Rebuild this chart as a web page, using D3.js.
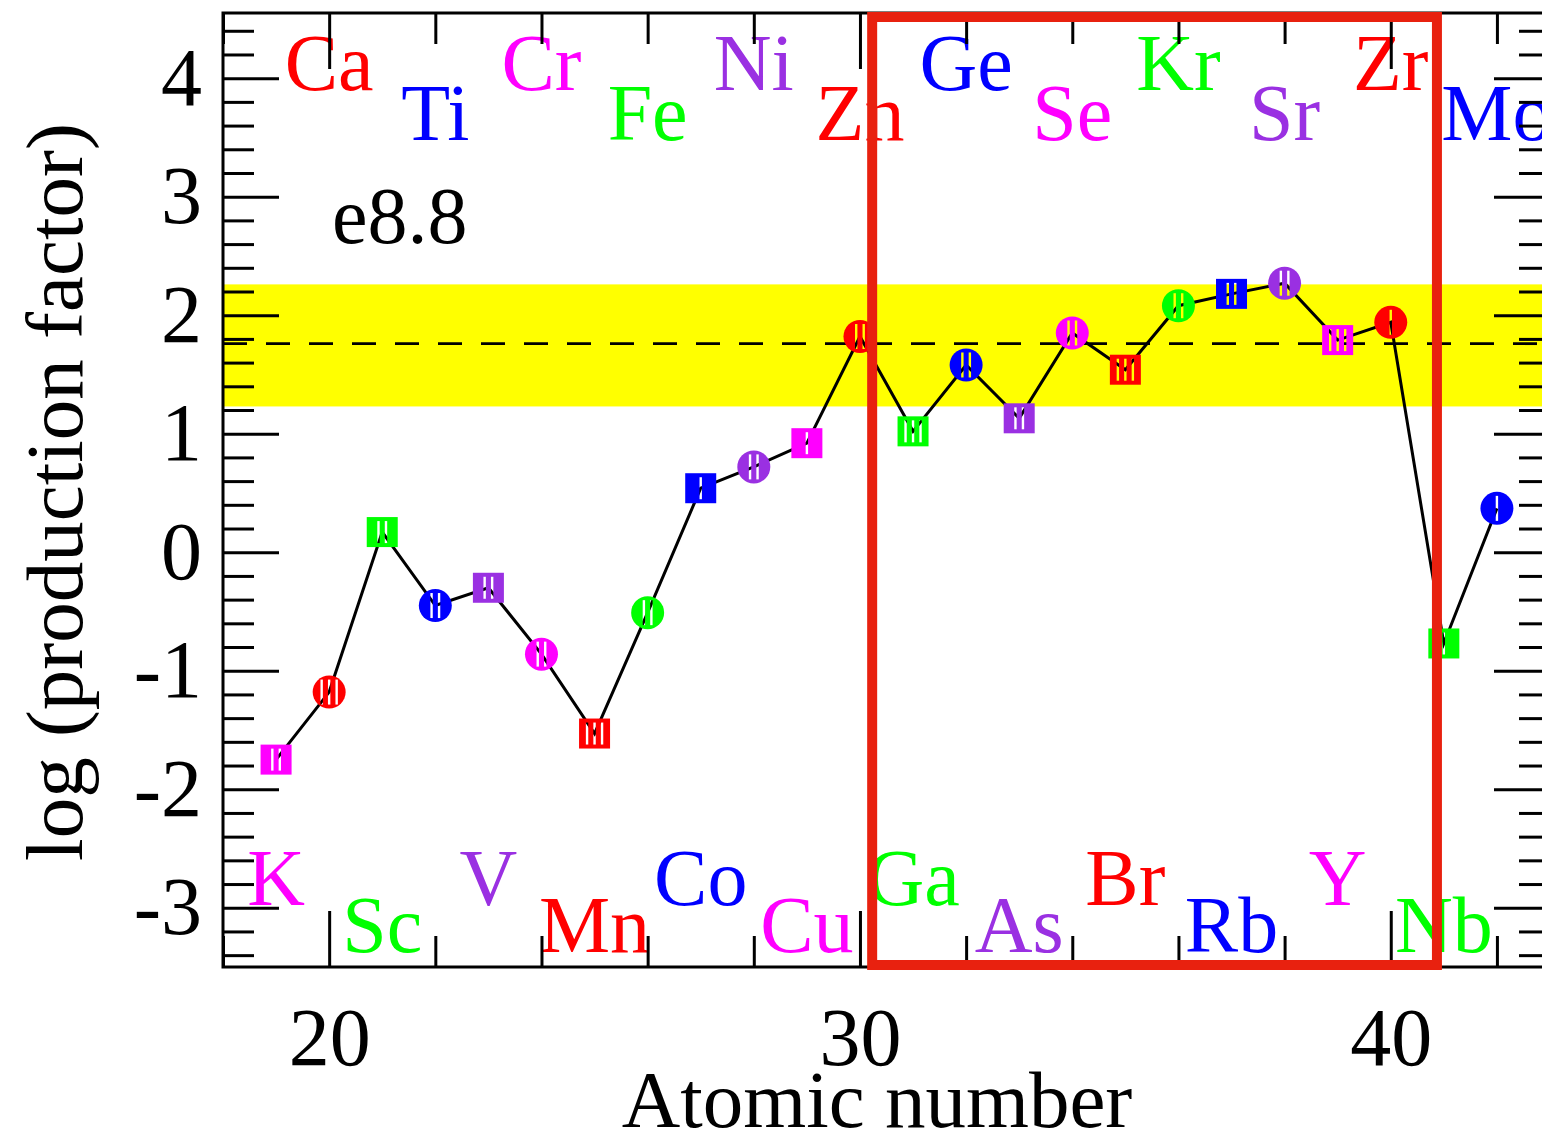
<!DOCTYPE html>
<html>
<head>
<meta charset="utf-8">
<script src="https://cdn.jsdelivr.net/npm/d3@7"></script>
<style>
  html, body { margin: 0; padding: 0; background: #fff; overflow: hidden; }
  svg { display: block; }
  text { font-family: "Liberation Serif", "DejaVu Serif", serif; }
</style>
</head>
<body>
<svg id="chart" width="1542" height="1136"></svg>
<script>
// Production factors of the intermediate-mass elements (model e8.8)
const atomicNumbers = [19, 20, 21, 22, 23, 24, 25, 26, 27, 28, 29, 30,
                       31, 32, 33, 34, 35, 36, 37, 38, 39, 40, 41, 42];
const elements = ["K", "Ca", "Sc", "Ti", "V", "Cr", "Mn", "Fe", "Co", "Ni", "Cu", "Zn",
                  "Ga", "Ge", "As", "Se", "Br", "Kr", "Rb", "Sr", "Y", "Zr", "Nb", "Mo"];
const logProduction = [-1.75, -1.18, 0.17, -0.45, -0.30, -0.86, -1.53, -0.51, 0.54, 0.72, 0.92, 1.82,
                       1.02, 1.58, 1.13, 1.85, 1.54, 2.08, 2.18, 2.27, 1.79, 1.94, -0.77, 0.37];
// number of isotope marks cut into each symbol
const isotopeMarks = [2, 3, 2, 2, 2, 2, 3, 2, 1, 2, 1, 2,
                      3, 2, 2, 2, 3, 2, 2, 2, 3, 1, 1, 1];

const xMajorTicks = [20, 30, 40];
const xMinorTicks = [18, 22, 24, 26, 28, 32, 34, 36, 38, 42];
const yMajorTicks = [-3, -2, -1, 0, 1, 2, 3, 4];
const yMinorTicks = d3.range(-34, 45, 2).filter(v => v % 10 !== 0).map(v => v / 10);

const bandRange = [1.23, 2.26];      // shaded band around the mean
const meanLevel = 1.76;              // dashed reference level
const highlightRange = [30.23, 40.87]; // boxed Ga..Zr region
const modelLabel = "e8.8";

const xTitle = "Atomic number";
const yTitle = "log (production factor)";

const palette = ["#ff00ff", "#ff0000", "#00ff00", "#0000ff", "#9a30e2"];

const svg = d3.select("#chart");
const x = d3.scaleLinear().domain([18, 43]).range([223, 1550]);
const y = d3.scaleLinear().domain([-3.5, 4.55]).range([967, 13]);
const [x0, x1] = x.range();
const [yb, yt] = y.range();

// shaded band and mean level
svg.append("rect")
  .attr("x", x0).attr("width", x1 - x0)
  .attr("y", y(bandRange[1])).attr("height", y(bandRange[0]) - y(bandRange[1]))
  .attr("fill", "#ffff00");

svg.append("line")
  .attr("x1", x0).attr("x2", x1)
  .attr("y1", y(meanLevel)).attr("y2", y(meanLevel))
  .attr("stroke", "#000").attr("stroke-width", 2.8)
  .attr("stroke-dasharray", "24 19");

// connecting line
const pts = atomicNumbers.map((z, i) => ({ z, v: logProduction[i], name: elements[i], marks: isotopeMarks[i], i }));
svg.append("path")
  .datum(pts)
  .attr("fill", "none").attr("stroke", "#000").attr("stroke-width", 3)
  .attr("d", d3.line().x(d => x(d.z)).y(d => y(d.v)));

// symbols with isotope marks cut out
const defs = svg.append("defs");
pts.forEach(d => {
  const sq = d.z % 2 === 1;
  const half = sq ? 11 : 12.5;
  const m = defs.append("mask").attr("id", "iso" + d.i)
    .attr("maskUnits", "userSpaceOnUse")
    .attr("x", -25).attr("y", -25).attr("width", 50).attr("height", 50);
  m.append("rect").attr("x", -25).attr("y", -25).attr("width", 50).attr("height", 50).attr("fill", "#fff");
  d3.range(d.marks).forEach(k => {
    const off = (k - (d.marks - 1) / 2) * 7.5;
    m.append("line")
      .attr("x1", off).attr("x2", off).attr("y1", -half).attr("y2", half)
      .attr("stroke", "#000").attr("stroke-width", 2.4);
  });
});

const marks = svg.append("g").selectAll("g").data(pts).join("g")
  .attr("transform", d => `translate(${x(d.z)},${y(d.v)})`);
marks.each(function (d) {
  const g = d3.select(this);
  const col = palette[(d.z - 19) % 5];
  if (d.z % 2 === 1) {
    g.append("rect").attr("x", -15.5).attr("y", -15).attr("width", 31).attr("height", 30)
      .attr("fill", col).attr("mask", `url(#iso${d.i})`);
  } else {
    g.append("circle").attr("r", 16.5).attr("fill", col).attr("mask", `url(#iso${d.i})`);
  }
});

// element names, staggered in four rows
const labelRows = { topHigh: 90, topLow: 140, bottomHigh: 905, bottomLow: 952 };
svg.append("g").selectAll("text").data(pts).join("text")
  .attr("x", d => x(d.z))
  .attr("y", d => {
    if (d.z % 2 === 0) return (d.z % 4 === 0) ? labelRows.topHigh : labelRows.topLow;
    return ((d.z - 19) % 4 === 0) ? labelRows.bottomHigh : labelRows.bottomLow;
  })
  .attr("text-anchor", "middle")
  .attr("font-size", 80)
  .attr("fill", d => palette[(d.z - 19) % 5])
  .text(d => d.name);

// model tag
svg.append("text")
  .attr("x", 332).attr("y", 243)
  .attr("font-size", 80).attr("fill", "#000")
  .text(modelLabel);

// axes: inward ticks on all four sides
const fmt = d => String(d);
function styleAxis(g) {
  g.select(".domain").remove();
  g.selectAll(".tick line").attr("stroke", "#000").attr("stroke-width", 3);
  g.selectAll(".tick text").attr("fill", "#000").attr("font-size", 82)
    .attr("font-family", "'Liberation Serif', serif");
}
svg.append("g").attr("transform", `translate(0,${yb})`)
  .call(d3.axisBottom(x).tickValues(xMajorTicks).tickSizeInner(-56).tickSizeOuter(0).tickPadding(40).tickFormat(fmt))
  .call(styleAxis);
svg.append("g").attr("transform", `translate(0,${yb})`)
  .call(d3.axisBottom(x).tickValues(xMinorTicks).tickSizeInner(-31).tickSizeOuter(0).tickFormat(""))
  .call(styleAxis);
svg.append("g").attr("transform", `translate(0,${yt})`)
  .call(d3.axisTop(x).tickValues(xMajorTicks).tickSizeInner(-56).tickSizeOuter(0).tickFormat(""))
  .call(styleAxis);
svg.append("g").attr("transform", `translate(0,${yt})`)
  .call(d3.axisTop(x).tickValues(xMinorTicks).tickSizeInner(-31).tickSizeOuter(0).tickFormat(""))
  .call(styleAxis);
svg.append("g").attr("transform", `translate(${x0},0)`)
  .call(d3.axisLeft(y).tickValues(yMajorTicks).tickSizeInner(-56).tickSizeOuter(0).tickPadding(21).tickFormat(fmt))
  .call(styleAxis);
svg.append("g").attr("transform", `translate(${x0},0)`)
  .call(d3.axisLeft(y).tickValues(yMinorTicks).tickSizeInner(-31).tickSizeOuter(0).tickFormat(""))
  .call(styleAxis);
svg.append("g").attr("transform", `translate(${x1},0)`)
  .call(d3.axisRight(y).tickValues(yMajorTicks).tickSizeInner(-56).tickSizeOuter(0).tickFormat(""))
  .call(styleAxis);
svg.append("g").attr("transform", `translate(${x1},0)`)
  .call(d3.axisRight(y).tickValues(yMinorTicks).tickSizeInner(-31).tickSizeOuter(0).tickFormat(""))
  .call(styleAxis);

// frame
svg.append("rect")
  .attr("x", x0).attr("y", yt).attr("width", x1 - x0).attr("height", yb - yt)
  .attr("fill", "none").attr("stroke", "#000").attr("stroke-width", 3);

// axis titles
svg.append("text")
  .attr("x", 877).attr("y", 1127)
  .attr("text-anchor", "middle").attr("font-size", 81).attr("fill", "#000")
  .text(xTitle);
svg.append("text")
  .attr("transform", "translate(82,492) rotate(-90)")
  .attr("text-anchor", "middle").attr("font-size", 81).attr("fill", "#000")
  .text(yTitle);

// highlighted region
svg.append("rect")
  .attr("x", x(highlightRange[0])).attr("width", x(highlightRange[1]) - x(highlightRange[0]))
  .attr("y", yt + 4).attr("height", yb - yt - 6)
  .attr("fill", "none").attr("stroke", "#e8210f").attr("stroke-width", 10);
</script>
</body>
</html>
